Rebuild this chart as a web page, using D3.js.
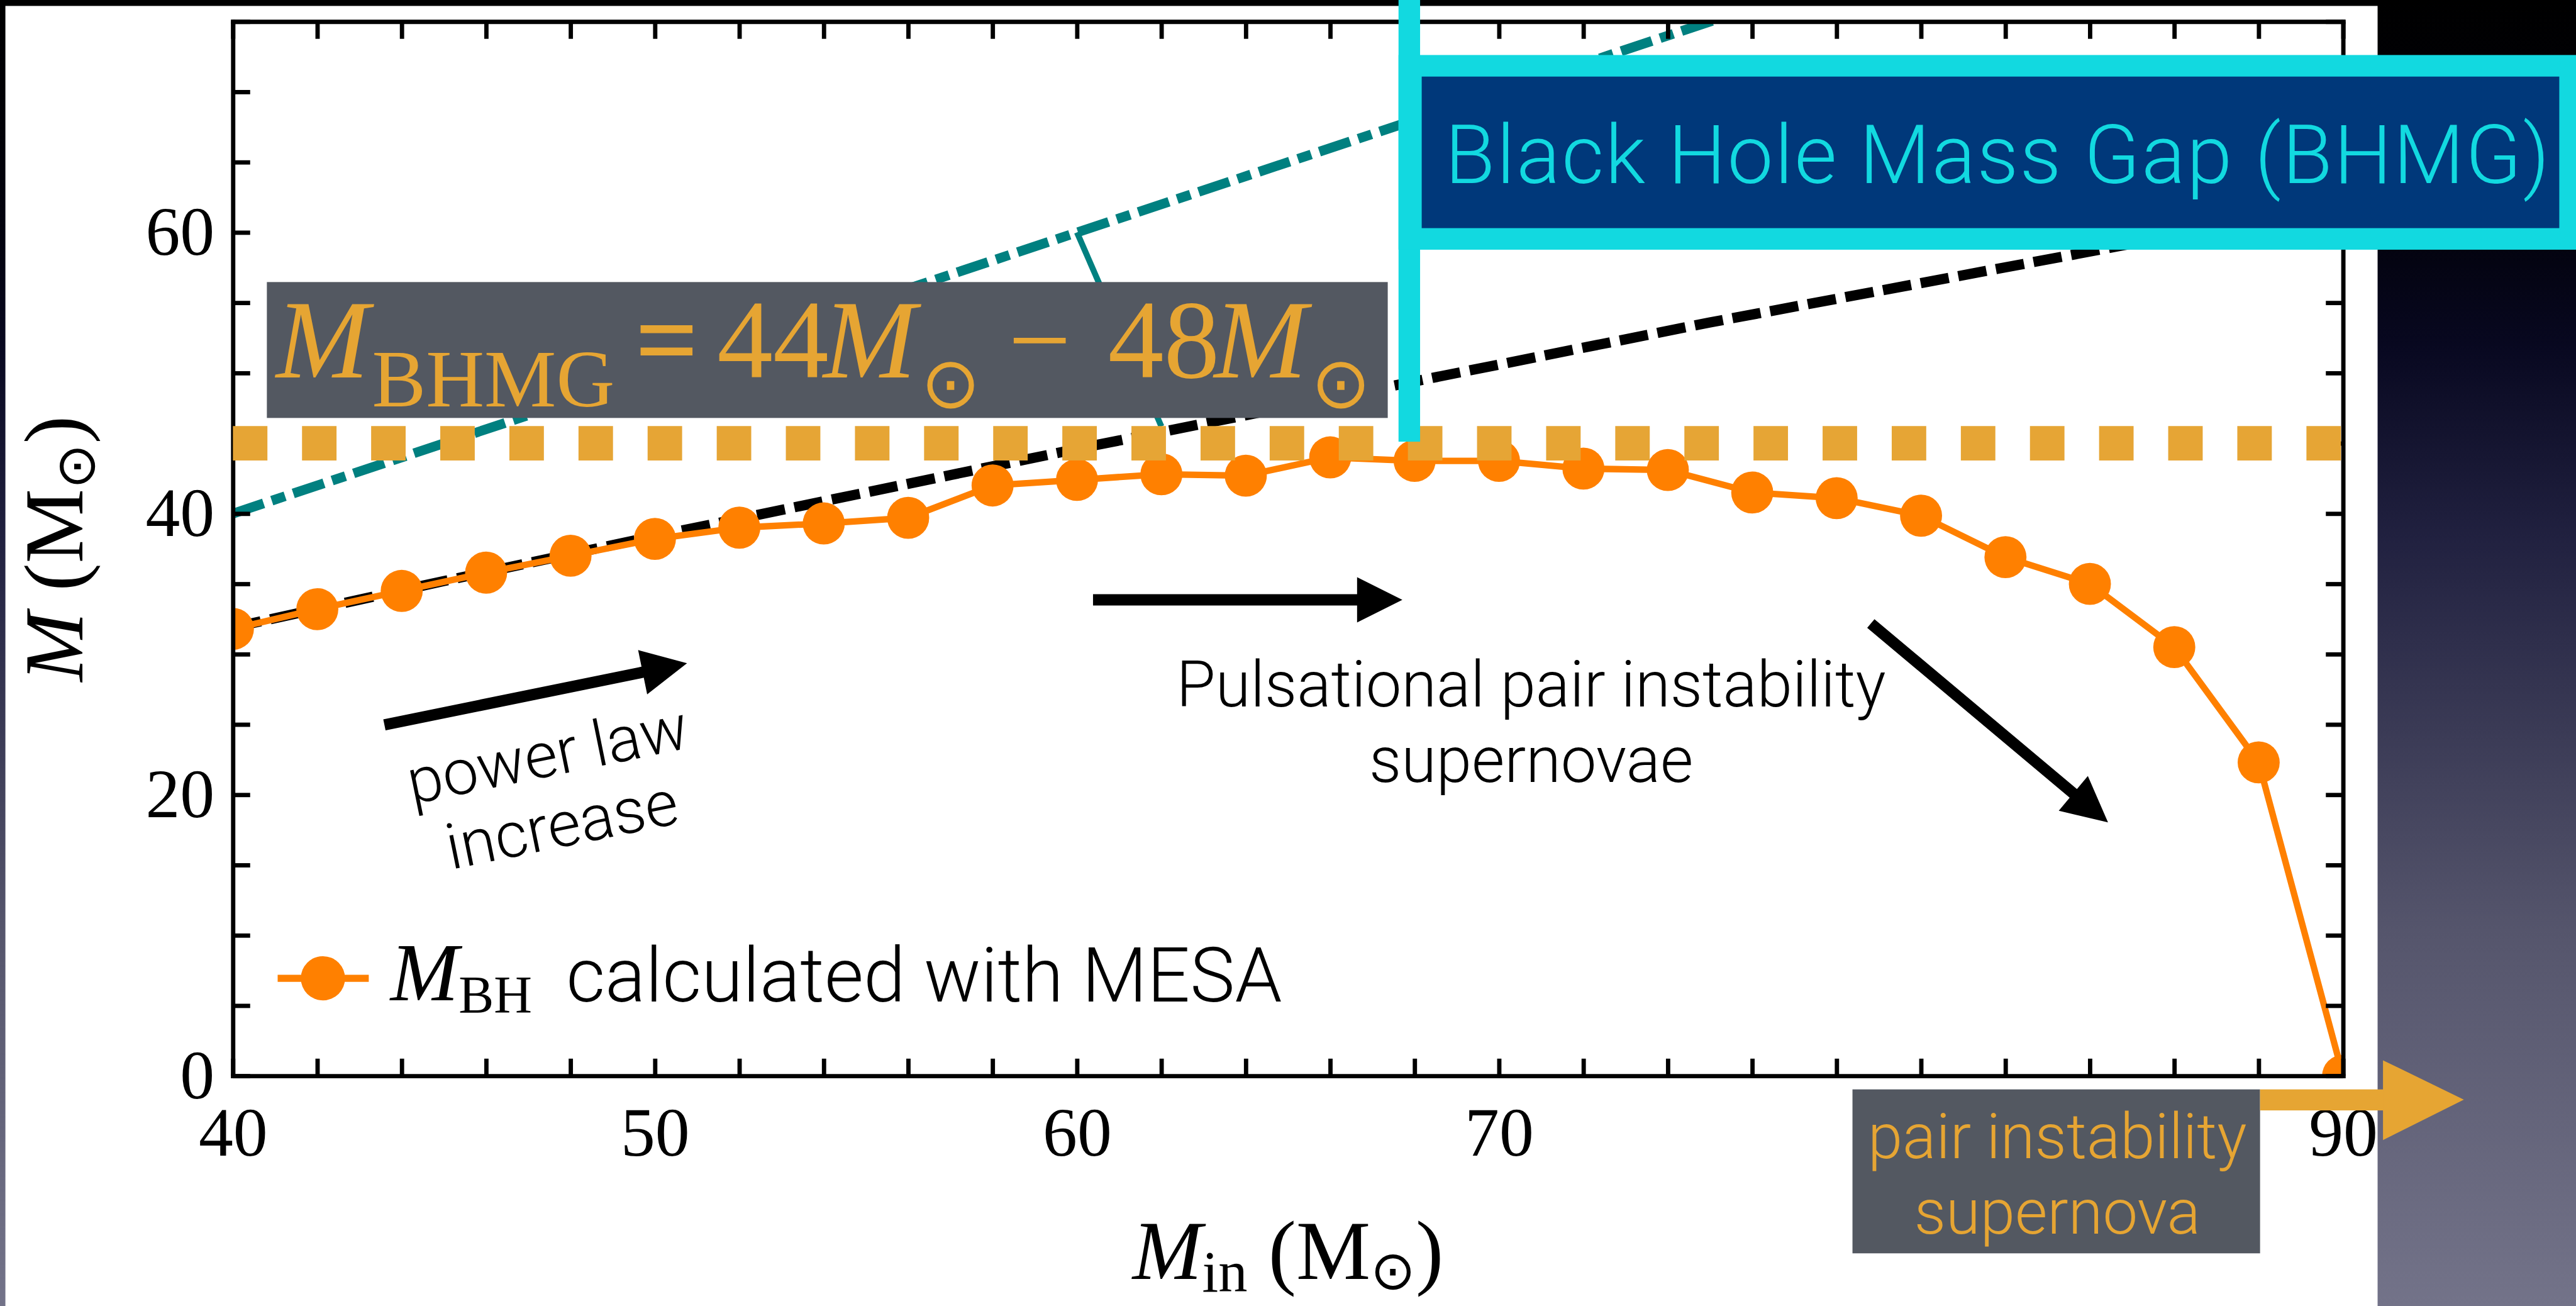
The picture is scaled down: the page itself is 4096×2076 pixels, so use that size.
<!DOCTYPE html>
<html>
<head>
<meta charset="utf-8">
<script src="https://cdn.jsdelivr.net/npm/d3@7"></script>
<style>
  html, body { margin: 0; padding: 0; background: #000; overflow: hidden; }
  svg { display: block; }
  text { white-space: pre; }
</style>
</head>
<body>
<svg id="chart" width="4096" height="2076"></svg>
<script>
// ---------------- data ----------------
// initial stellar mass (M_sun) and resulting black hole mass from MESA runs
const massIn = [40, 42, 44, 46, 48, 50, 52, 54, 56, 58, 60, 62, 64, 66, 68, 70, 72, 74, 76, 78, 80, 82, 84, 86, 88, 90];
const massBH = [31.8, 33.2, 34.5, 35.8, 37.0, 38.2, 39.0, 39.3, 39.7, 42.0, 42.4, 42.8, 42.7, 44.0, 43.75, 43.75, 43.2, 43.1, 41.5, 41.1, 39.85, 36.9, 35.0, 30.5, 22.3, 0];

// power-law trend through the low-mass runs
const fitMassIn = [40, 45, 50, 55, 60, 65, 70, 75, 80, 85, 90];
const fitMass   = [31.9, 35.2, 38.4, 41.5, 44.6, 47.6, 50.6, 53.6, 56.4, 59.2, 62.0];

// no-mass-loss reference line (M = M_in) and its pointer
const equalMassIn = [40, 90];
const equalMass   = [40, 90];
const leaderIn    = [60, 62];
const leaderMass  = [60, 46.2];

// lower edge of the mass gap
const gapLevel = 45;

// axis ticks
const xTickValues = [40, 42, 44, 46, 48, 50, 52, 54, 56, 58, 60, 62, 64, 66, 68, 70, 72, 74, 76, 78, 80, 82, 84, 86, 88, 90];
const xTickLabels = [40, 50, 60, 70, 80, 90];
const yTickValues = [0, 5, 10, 15, 20, 25, 30, 35, 40, 45, 50, 55, 60, 65, 70, 75];
const yTickLabels = [0, 20, 40, 60];

// annotation arrows, in data units
const arrowTails = [[43.59, 24.97], [60.38, 33.87], [78.81, 32.18]];
const arrowTips  = [[50.76, 29.36], [67.71, 33.87], [84.43, 18.03]];

// ---------------- setup ----------------
const W = 4778, H = 2422;
const S = 4096 / W;
const SERIF = '"Liberation Serif", "DejaVu Serif", serif';
const SANS = 'Roboto, "Open Sans", "Liberation Sans", sans-serif';
const SYM = '"DejaVu Sans", sans-serif';

const svg = d3.select('#chart');
const defs = svg.append('defs');

const grad = defs.append('linearGradient').attr('id', 'bg')
  .attr('gradientUnits', 'userSpaceOnUse').attr('x1', 0).attr('y1', 0).attr('x2', 0).attr('y2', H);
[[0, '#000000'], [0.186, '#03030f'], [0.264, '#080820'], [0.413, '#212140'], [0.712, '#55556c'], [1, '#737389']]
  .forEach(([o, c]) => grad.append('stop').attr('offset', o).attr('stop-color', c));

const root = svg.append('g').attr('transform', `scale(${S})`);

root.append('rect').attr('width', W).attr('height', H).attr('fill', 'url(#bg)');
root.append('rect').attr('x', 10).attr('y', 11).attr('width', 4400).attr('height', H - 11).attr('fill', '#fff');

const x = d3.scaleLinear().domain([40, 90]).range([432, 4346]);
const y = d3.scaleLinear().domain([0, 75]).range([1995, 40]);

defs.append('clipPath').attr('id', 'plotClip').append('rect')
  .attr('x', x(40)).attr('y', y(75)).attr('width', x(90) - x(40)).attr('height', y(0) - y(75));

const plot = root.append('g').attr('clip-path', 'url(#plotClip)');
const line = d3.line().x(d => x(d[0])).y(d => y(d[1]));

// M = M_in, teal dash-dot
plot.append('path')
  .attr('d', line(d3.zip(equalMassIn, equalMass)))
  .attr('fill', 'none').attr('stroke', '#008080').attr('stroke-width', 18)
  .attr('stroke-dasharray', '60,16,26,16');
plot.append('path')
  .attr('d', line(d3.zip(leaderIn, leaderMass)))
  .attr('fill', 'none').attr('stroke', '#008080').attr('stroke-width', 11);

// power-law trend, black dashed
plot.append('path')
  .attr('d', line(d3.zip(fitMassIn, fitMass)))
  .attr('fill', 'none').attr('stroke', '#000').attr('stroke-width', 19)
  .attr('stroke-dasharray', '53,18');

// MESA black hole masses
const pts = d3.zip(massIn, massBH);
plot.append('path')
  .attr('d', line(pts))
  .attr('fill', 'none').attr('stroke', '#ff8000').attr('stroke-width', 12).attr('stroke-linejoin', 'round');
plot.selectAll('circle.pt').data(pts).join('circle')
  .attr('class', 'pt')
  .attr('cx', d => x(d[0])).attr('cy', d => y(d[1])).attr('r', 39).attr('fill', '#ff8000');

// axes: ticks on all four sides, pointing inwards
const tickFont = g => g.selectAll('text')
  .attr('font-family', SERIF).attr('font-size', 128).attr('fill', '#000');
const styleAxis = g => {
  g.select('.domain').attr('stroke', '#000').attr('stroke-width', 8).attr('stroke-linecap', 'square');
  g.selectAll('.tick line').attr('stroke', '#000').attr('stroke-width', 8);
};

root.append('g').attr('transform', `translate(0,${y(0)})`)
  .call(d3.axisBottom(x).tickValues(xTickValues).tickSizeInner(-32).tickSizeOuter(0).tickPadding(57)
    .tickFormat(d => xTickLabels.includes(d) ? String(d) : ''))
  .call(styleAxis).call(tickFont);
root.append('g').attr('transform', `translate(0,${y(75)})`)
  .call(d3.axisTop(x).tickValues(xTickValues).tickSizeInner(-32).tickSizeOuter(0).tickFormat(() => ''))
  .call(styleAxis);
root.append('g').attr('transform', `translate(${x(40)},0)`)
  .call(d3.axisLeft(y).tickValues(yTickValues).tickSizeInner(-32).tickSizeOuter(0).tickPadding(34)
    .tickFormat(d => yTickLabels.includes(d) ? String(d) : ''))
  .call(styleAxis).call(tickFont);
root.append('g').attr('transform', `translate(${x(90)},0)`)
  .call(d3.axisRight(y).tickValues(yTickValues).tickSizeInner(-32).tickSizeOuter(0).tickFormat(() => ''))
  .call(styleAxis);

// mixed-style text (italic symbols, subscripts, odot)
function richText(parent, segs, o) {
  const t = parent.append('text')
    .attr('x', o.x).attr('y', o.y)
    .attr('text-anchor', o.anchor || 'start')
    .attr('fill', o.fill || '#000')
    .attr('font-family', o.family || SERIF)
    .attr('font-size', o.size);
  if (o.transform) t.attr('transform', o.transform);
  let shift = 0;
  segs.forEach(s => {
    const ts = t.append('tspan').text(s.text);
    const target = s.shift || 0;
    if (target !== shift) { ts.attr('dy', target - shift); shift = target; }
    if (s.x !== undefined) ts.attr('x', s.x);
    if (s.italic) ts.attr('font-style', 'italic');
    if (s.size) ts.attr('font-size', s.size);
    if (s.family) ts.attr('font-family', s.family);
    if (s.weight) ts.attr('font-weight', s.weight);
  });
  return t;
}

// axis titles
const xMid = (x(40) + x(90)) / 2, yMid = (y(0) + y(75)) / 2;
richText(root, [
  { text: 'M', italic: true },
  { text: 'in', size: 108, shift: 23 },
  { text: ' (M', shift: 0 },
  { text: '⊙', family: SYM, size: 100, shift: 18 },
  { text: ')', shift: 0 }
], { x: xMid, y: 2372, anchor: 'middle', size: 155 });

richText(root, [
  { text: 'M', italic: true },
  { text: ' (M' },
  { text: '⊙', family: SYM, size: 100, shift: 22 },
  { text: ')', shift: 0 }
], { x: 0, y: 0, anchor: 'middle', size: 155, transform: `translate(153,${yMid}) rotate(-90)` });

// legend
const leg = root.append('g');
leg.append('line').attr('x1', 515).attr('x2', 684).attr('y1', 1814).attr('y2', 1814)
  .attr('stroke', '#ff8000').attr('stroke-width', 13);
leg.append('circle').attr('cx', 599).attr('cy', 1814).attr('r', 41).attr('fill', '#ff8000');
richText(leg, [
  { text: 'M', italic: true },
  { text: 'BH', size: 98, shift: 23 }
], { x: 724, y: 1855, size: 152 });
leg.append('text').attr('x', 1050).attr('y', 1857)
  .attr('font-family', SANS).attr('font-weight', 300).attr('font-size', 140)
  .attr('fill', '#000')
  .text('calculated with MESA');

// annotation arrows
function arrowPath(x0, y0, x1, y1, shaft, headLen, headW) {
  const dx = x1 - x0, dy = y1 - y0, L = Math.hypot(dx, dy);
  const ux = dx / L, uy = dy / L, px = -uy, py = ux;
  const bx = x1 - ux * headLen, by = y1 - uy * headLen;
  const h = shaft / 2, w = headW / 2;
  return `M${x0 + px * h},${y0 + py * h}L${bx + px * h},${by + py * h}L${bx + px * w},${by + py * w}` +
         `L${x1},${y1}L${bx - px * w},${by - py * w}L${bx - px * h},${by - py * h}L${x0 - px * h},${y0 - py * h}Z`;
}
root.append('g').selectAll('path').data(d3.zip(arrowTails, arrowTips)).join('path')
  .attr('d', ([a, b]) => arrowPath(x(a[0]), y(a[1]), x(b[0]), y(b[1]), 21, 84, 84))
  .attr('fill', '#000');

// annotation texts
const power = root.append('g').attr('transform', 'translate(1030,1471) rotate(-11.5)');
power.append('text').attr('x', 0).attr('y', -33).text('power law');
power.append('text').attr('x', 0).attr('y', 100).text('increase');
power.selectAll('text').attr('text-anchor', 'middle').attr('font-family', SANS)
  .attr('font-weight', 300).attr('font-size', 118).attr('fill', '#000');

const ppi = root.append('g');
ppi.append('text').attr('x', 2840).attr('y', 1310).text('Pulsational pair instability');
ppi.append('text').attr('x', 2840).attr('y', 1450).text('supernovae');
ppi.selectAll('text').attr('text-anchor', 'middle').attr('font-family', SANS)
  .attr('font-weight', 300).attr('font-size', 118).attr('fill', '#000');

// mass-gap lower edge, thick dotted
root.append('line')
  .attr('x1', x(40)).attr('x2', x(90)).attr('y1', y(gapLevel)).attr('y2', y(gapLevel))
  .attr('stroke', '#e6a535').attr('stroke-width', 64).attr('stroke-dasharray', '64,64.2');

// mass-gap range label
const ORANGE = '#e6a533';
root.append('rect').attr('x', 495).attr('y', 523).attr('width', 2079).attr('height', 252).attr('fill', '#535861');
richText(root, [
  { text: 'M', italic: true, x: 512 },
  { text: 'BHMG', size: 150, shift: 53, x: 690 },
  { text: '=', weight: 'bold', shift: 0, x: 1178 },
  { text: '44', x: 1330 },
  { text: 'M', italic: true, x: 1527 },
  { text: '⊙', family: SYM, size: 132, shift: 56, x: 1708 },
  { text: '−', shift: 0, x: 1870 },
  { text: '48', x: 2055 },
  { text: 'M', italic: true, x: 2252 },
  { text: '⊙', family: SYM, size: 132, shift: 56, x: 2432 }
], { x: 512, y: 700, size: 207, fill: ORANGE });

// mass-gap title banner
const CYAN = '#12d9e0';
root.append('rect').attr('x', 2594).attr('y', 0).attr('width', 40).attr('height', 819).attr('fill', CYAN);
root.append('rect').attr('x', 2594).attr('y', 102).attr('width', 2200).attr('height', 361).attr('fill', CYAN);
root.append('rect').attr('x', 2637).attr('y', 142).attr('width', 2110).attr('height', 281).attr('fill', '#00387a');
root.append('text').attr('x', 2680).attr('y', 339)
  .attr('font-family', SANS).attr('font-weight', 300).attr('font-size', 152)
  .attr('letter-spacing', 2.5).attr('fill', CYAN)
  .text('Black Hole Mass Gap (BHMG)');

// pair-instability label and arrow
root.append('rect').attr('x', 3436).attr('y', 2020).attr('width', 756).attr('height', 304).attr('fill', '#535861');
root.append('rect').attr('x', 4192).attr('y', 2020).attr('width', 230).attr('height', 39).attr('fill', ORANGE);
root.append('path').attr('d', 'M4420,1966L4570,2039L4420,2114Z').attr('fill', ORANGE);
const pisn = root.append('g');
pisn.append('text').attr('x', 3816).attr('y', 2147).text('pair instability');
pisn.append('text').attr('x', 3816).attr('y', 2288).text('supernova');
pisn.selectAll('text').attr('text-anchor', 'middle').attr('font-family', SANS)
  .attr('font-weight', 300).attr('font-size', 116).attr('fill', ORANGE);
</script>
</body>
</html>
